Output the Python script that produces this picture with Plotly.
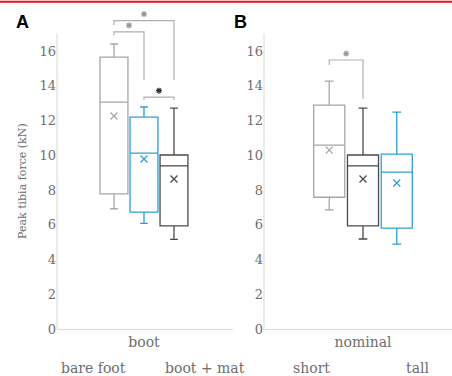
import plotly.graph_objects as go

# ---------------- data ----------------
groups_a = ["bare foot", "boot", "boot + mat"]
lower_a = [6.93, 6.09, 5.17]
q1_a = [7.78, 6.74, 5.94]
median_a = [13.06, 10.13, 9.39]
q3_a = [15.65, 12.20, 10.02]
upper_a = [16.40, 12.78, 12.72]
mean_a = [12.26, 9.79, 8.64]

groups_b = ["short", "nominal", "tall"]
lower_b = [6.87, 5.19, 4.90]
q1_b = [7.59, 5.94, 5.82]
median_b = [10.59, 9.39, 9.04]
q3_b = [12.89, 10.02, 10.07]
upper_b = [14.27, 12.72, 12.49]
mean_b = [10.30, 8.64, 8.41]

category_a = "boot"
category_b = "nominal"
y_ticks = [0, 2, 4, 6, 8, 10, 12, 14, 16]

# significance brackets: (left group idx, right group idx, bar height, left leg end, right leg end)
brackets_a = [(0, 1, 17.10, 16.90, 14.33), (0, 2, 17.75, 17.49, 14.33), (1, 2, 13.35, 13.18, 13.18)]
brackets_b = [(0, 1, 15.48, 15.19, 13.24)]

# ---------------- style ----------------
colors_a = ["#a6a6a6", "#2a9fd8", "#4a4a4a"]
colors_b = ["#a6a6a6", "#4a4a4a", "#2a9fd8"]
star_colors_a = ["#9a9a9a", "#9a9a9a", "#333333"]
star_colors_b = ["#9a9a9a"]
positions = [-1, 0, 1]
FONT = "DejaVu Serif"
W, H = 452, 376
y_top = 18.93
y_line_top = 17

fig = go.Figure()


def add_panel(xa, ya, groups, lo, q1, med, q3, up, mean, colors, brackets, star_colors, width):
    for i, g in enumerate(groups):
        fig.add_trace(go.Box(
            x=[positions[i]], q1=[q1[i]], median=[med[i]], q3=[q3[i]],
            lowerfence=[lo[i]], upperfence=[up[i]], name=g,
            width=width, whiskerwidth=0.28,
            line=dict(color=colors[i], width=1.3), fillcolor="rgba(255,255,255,0)",
            boxpoints=False, showlegend=False, xaxis=xa, yaxis=ya,
        ))
        fig.add_trace(go.Scatter(
            x=[positions[i]], y=[mean[i]], mode="markers",
            marker=dict(symbol="x-thin", size=7, color=colors[i],
                        line=dict(color=colors[i], width=1.3)),
            showlegend=False, xaxis=xa, yaxis=ya,
        ))
    for k, (a, b, h, la, lb) in enumerate(brackets):
        xl, xr = positions[a], positions[b]
        fig.add_trace(go.Scatter(
            x=[xl, xl, xr, xr], y=[la, h, h, lb], mode="lines",
            line=dict(color="#b0b0b0", width=1.2), showlegend=False,
            xaxis=xa, yaxis=ya,
        ))
        fig.add_trace(go.Scatter(
            x=[(xl + xr) / 2], y=[h + 0.37], mode="markers",
            marker=dict(symbol="asterisk-open", size=5, color=star_colors[k],
                        line=dict(color=star_colors[k], width=1.2)),
            showlegend=False, xaxis=xa, yaxis=ya,
        ))


add_panel("x", "y", groups_a, lower_a, q1_a, median_a, q3_a, upper_a, mean_a,
          colors_a, brackets_a, star_colors_a, 0.93)
add_panel("x2", "y2", groups_b, lower_b, q1_b, median_b, q3_b, upper_b, mean_b,
          colors_b, brackets_b, star_colors_b, 0.92)

ydom = [(H - 329.3) / H, 1]
axis_common = dict(showgrid=False, zeroline=False, fixedrange=True, automargin=False)
fig.update_layout(
    width=W, height=H, margin=dict(l=0, r=0, t=0, b=0, pad=0), autosize=False,
    paper_bgcolor="white", plot_bgcolor="white",
    font=dict(family=FONT, color="#6e6e6e"),
    xaxis=dict(domain=[57 / W, 233 / W], range=[-2.9, 2.967], showline=True,
               linecolor="#d9d9d9", linewidth=1, tickvals=[0], ticktext=[category_a],
               ticks="", tickfont=dict(size=14, family=FONT, color="#6e6e6e"), **axis_common),
    xaxis2=dict(domain=[264 / W, 1], range=[-2.933, 2.637], showline=True,
                linecolor="#d9d9d9", linewidth=1, tickvals=[0], ticktext=[category_b],
                ticks="", tickfont=dict(size=14, family=FONT, color="#6e6e6e"), **axis_common),
    yaxis=dict(domain=ydom, range=[0, y_top], tickvals=y_ticks, showline=False,
               ticks="", tickfont=dict(size=13, family=FONT, color="#6e6e6e"),
               anchor="x", **axis_common),
    yaxis2=dict(domain=ydom, range=[0, y_top], tickvals=y_ticks, showline=False,
                ticks="", tickfont=dict(size=13, family=FONT, color="#6e6e6e"),
                anchor="x2", **axis_common),
)

# y axis lines (stop at 17)
for xr_, yr_ in [("x domain", "y domain"), ("x2 domain", "y2 domain")]:
    fig.add_shape(type="line", xref=xr_, yref=yr_, x0=0, x1=0, y0=0, y1=y_line_top / y_top,
                  line=dict(color="#d9d9d9", width=1))

# red rule at top
fig.add_shape(type="line", xref="paper", yref="paper", x0=0, x1=1, y0=1 - 1.8 / H, y1=1 - 1.8 / H,
              line=dict(color="#ee1111", width=2))

# panel letters
fig.add_annotation(text="<b>A</b>", x=22 / W, y=1 - 22 / H, xref="paper", yref="paper",
                   showarrow=False, font=dict(family="Liberation Sans", size=18, color="black"),
                   xanchor="center", yanchor="middle")
fig.add_annotation(text="<b>B</b>", x=240 / W, y=1 - 22 / H, xref="paper", yref="paper",
                   showarrow=False, font=dict(family="Liberation Sans", size=18, color="black"),
                   xanchor="center", yanchor="middle")

# y title
fig.add_annotation(text="Peak tibia force (kN)", x=22 / W, y=1 - 181 / H, xref="paper", yref="paper",
                   showarrow=False, textangle=-90, font=dict(family=FONT, size=11, color="#6e6e6e"),
                   xanchor="center", yanchor="middle")

# legend-like labels (outer groups)
for txt, px in [(groups_a[0], 93.5), (groups_a[2], 204.5), (groups_b[0], 311), (groups_b[2], 417)]:
    fig.add_annotation(text=txt, x=px / W, y=(H - 368) / H, xref="paper", yref="paper",
                       showarrow=False, font=dict(family=FONT, size=14, color="#6e6e6e"),
                       xanchor="center", yanchor="middle")

fig.write_html(
    "out.html",
    config={"displayModeBar": False, "staticPlot": True},
    post_script=(
        "document.documentElement.style.margin='0px';"
        "document.documentElement.style.overflow='hidden';"
        "document.body.style.margin='0px';"
        "document.body.style.overflow='hidden';"
    ),
)
